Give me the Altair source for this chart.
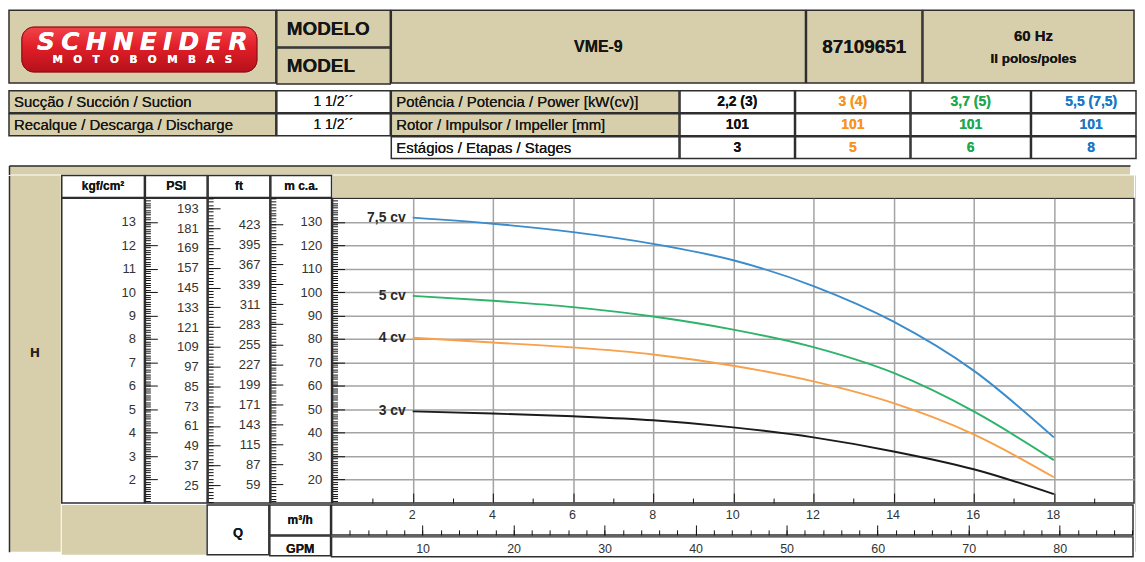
import altair as alt
import numpy as np
import pandas as pd

FONT = "Liberation Sans"
TAN = "#D7CFAC"
LINE = "#2e2e2e"
TXT = "#151515"
E = 1.5            # stroke width of every view (Vega pads each view's bounds by it)
SP = -2 * E        # spacing that makes neighbouring views share their border

# ---------------- header / table texts ----------------
brand = "SCHNEIDER"
brand_sub = "MOTOBOMBAS"
model_titles = ["MODELO", "MODEL"]
model_name = "VME-9"
model_code = "87109651"
freq_text = ["60 Hz", "II polos/poles"]

pipe_labels = ["Sucção / Succión / Suction", "Recalque / Descarga / Discharge"]
pipe_sizes = ["1 1/2´´", "1 1/2´´"]

spec_labels = ["Potência / Potencia / Power [kW(cv)]",
               "Rotor / Impulsor / Impeller [mm]",
               "Estágios / Etapas / Stages"]
power_kw_cv = ["2,2 (3)", "3 (4)", "3,7 (5)", "5,5 (7,5)"]
impeller_mm = ["101", "101", "101", "101"]
stage_count = ["3", "5", "6", "8"]
value_colors = ["#111111", "#F7941D", "#1FA84F", "#1C78C4"]

unit_headers = ["kgf/cm²", "PSI", "ft", "m c.a."]
axis_name_h = "H"
axis_name_q = "Q"
q_units = ["m³/h", "GPM"]

# ---------------- pump curves (Q m3/h -> H m c.a.) ----------------
curve_names = ["3 cv", "4 cv", "5 cv", "7,5 cv"]
curve_colors = ["#1b1b1b", "#F8A04A", "#2DB36A", "#3A8CCD"]
flow_m3h = [2, 4, 6, 8, 10, 12, 14, 16, 18]
head_3cv = [49.1, 48.2, 47.0, 45.3, 42.3, 38.0, 32.0, 24.4, 13.8]
head_4cv = [80.5, 78.5, 76.4, 73.4, 68.6, 61.9, 52.6, 39.3, 21.0]
head_5cv = [98.4, 96.3, 93.6, 89.6, 84.0, 76.5, 65.5, 49.1, 28.3]
head_75cv = [131.8, 129.2, 125.6, 120.6, 113.6, 102.6, 87.4, 66.5, 38.0]

# ---------------- scales / ruler labels ----------------
head_domain = [10, 140]
flow_domain = [0, 20]
KGF_PER_M = 0.1
PSI_PER_M = 1.422
FT_PER_M = 1 / 0.3048
GPM_PER_M3H = 4.403

kgf_labels = [2, 3, 4, 5, 6, 7, 8, 9, 10, 11, 12, 13]
psi_labels = [25, 37, 49, 61, 73, 85, 97, 109, 121, 133, 145, 157, 169, 181, 193]
ft_labels = [59, 87, 115, 143, 171, 199, 227, 255, 283, 311, 339, 367, 395, 423]
mca_labels = [20, 30, 40, 50, 60, 70, 80, 90, 100, 110, 120, 130]
m3h_labels = [2, 4, 6, 8, 10, 12, 14, 16, 18]
gpm_labels = [10, 20, 30, 40, 50, 60, 70, 80]

kgf_minor = np.round(np.arange(11, 140) / 10, 1).tolist()
psi_minor = list(range(15, 200, 2))
ft_minor = list(range(35, 460, 4))
mca_minor = list(range(11, 140))
m3h_minor = list(range(1, 20, 2))
gpm_minor = list(range(2, 89, 2))

kgf_dom = [head_domain[0] * KGF_PER_M, head_domain[1] * KGF_PER_M]
psi_dom = [head_domain[0] * PSI_PER_M, head_domain[1] * PSI_PER_M]
ft_dom = [head_domain[0] * FT_PER_M, head_domain[1] * FT_PER_M]
gpm_dom = [flow_domain[0] * GPM_PER_M3H, flow_domain[1] * GPM_PER_M3H]

# ---------------- layout sizes ----------------
W_KGF, W_PSI, W_FT, W_MCA, W_PLOT = 83, 62, 62, 61, 805
H_HDR, H_PLOT, H_QROW, H_GPM = 22, 306, 30, 20
H_SIDE = H_HDR + H_PLOT + H_QROW + H_GPM
W_RIGHT = 1
W_PANEL = 52 + W_KGF + W_PSI + W_FT + W_MCA + W_PLOT + W_RIGHT

ONE = alt.Data(values=[{"v": 0, "u": 0}, {"v": 1, "u": 1}])
INVISIBLE = dict(opacity=0, size=0, strokeWidth=0)


def box(fill=TAN, border=True):
    return alt.ViewBackground(fill=fill, stroke=LINE if border else "transparent", strokeWidth=E)


def txt(text, size=14, weight="normal", color=TXT, align="center", x=None, y=None, dy=0, font=FONT, style="normal"):
    enc = {"text": alt.value(text)}
    if x is not None:
        enc["x"] = alt.value(x)
    if y is not None:
        enc["y"] = alt.value(y)
    return alt.Chart(ONE).mark_text(font=font, fontSize=size, fontWeight=weight, color=color,
                                    align=align, baseline="middle", dy=dy,
                                    fontStyle=style).encode(**enc)


def cell(w, h, layers=None, fill=TAN, border=True):
    if not layers:
        layers = [txt("")]
    return alt.layer(*layers).properties(width=w, height=h, view=box(fill, border))


def hc(*charts, gap=0):
    return alt.hconcat(*charts, spacing=gap + SP)


def vc(*charts, gap=0):
    return alt.vconcat(*charts, spacing=gap + SP)


def guide(channel, dom, values, orient, tick=0, label=False, pad=0, size=13):
    """An invisible point whose axis draws one ruler (ticks or labels)."""
    sc = alt.Scale(domain=dom, nice=False, zero=False)
    ax = dict(orient=orient, values=values, domain=False, grid=False, title=None, minExtent=0,
              labels=label, ticks=tick > 0, labelFlush=False, labelOverlap=False)
    if tick > 0:
        ax.update(tickSize=tick, offset=-tick, tickColor="#111", tickWidth=1)
    if label:
        ax.update(labelPadding=pad, labelFont=FONT, labelFontSize=size, labelColor="#333")
        if channel == "y":
            ax.update(labelAlign="right", labelBaseline="middle")
        else:
            ax.update(labelAlign="center", labelBaseline="top")
    main = alt.Y if channel == "y" else alt.X
    other = alt.X if channel == "y" else alt.Y
    other_ch = "x" if channel == "y" else "y"
    mid = (dom[0] + dom[1]) / 2
    return alt.Chart(alt.Data(values=[{"v": mid, "u": 0.5}])).mark_point(**INVISIBLE).encode(
        **{channel: main("v:Q", scale=sc, axis=alt.Axis(**ax)),
           other_ch: other("u:Q", scale=alt.Scale(domain=[0, 1]), axis=None)})


# ---------------- header row ----------------
red_grad = alt.LinearGradient(
    gradient="linear", x1=0, x2=0, y1=0, y2=1,
    stops=[alt.GradientStop(color="#F2444A", offset=0),
           alt.GradientStop(color="#E01E28", offset=0.45),
           alt.GradientStop(color="#B5111B", offset=1)])
logo_rect = alt.Chart(ONE).mark_rect(cornerRadius=12, color=red_grad, stroke="#8f0d15", strokeWidth=1).encode(
    x=alt.value(13), x2=alt.value(249), y=alt.value(17), y2=alt.value(62))
logo = cell(268, 73, [
    logo_rect,
    txt("\u2005".join(brand), size=25, weight="bold", color="white", dy=-5, font="DejaVu Sans", style="italic"),
    txt("\u2003".join(brand_sub), size=10.5, weight="bold", color="white", dy=14, font="DejaVu Sans"),
])
model_cell = vc(
    cell(114, 37, [txt(model_titles[0], size=19, weight="bold", align="left", x=10)]),
    cell(114, 36, [txt(model_titles[1], size=19, weight="bold", align="left", x=10)]),
)
name_cell = cell(416, 73, [txt(model_name, size=16, weight="bold")])
code_cell = cell(116, 73, [txt(model_code, size=19, weight="bold")])
freq_cell = cell(212, 73, [txt(freq_text[0], size=15, weight="bold", dy=-11, x=111),
                           txt(freq_text[1], size=13.5, weight="bold", dy=13, x=111)])
header = hc(logo, model_cell, name_cell, code_cell, freq_cell)

# ---------------- second block ----------------
left_table = vc(*[
    hc(cell(268, 22, [txt(lab, size=15, align="left", x=5)]),
       cell(114, 22, [txt(val, size=14)], fill="transparent"))
    for lab, val in zip(pipe_labels, pipe_sizes)
])
col_w = [115, 115, 120, 105]
col_text_x = [57.5, 57.5, 60, 60]
right_rows = []
for i, (lab, vals) in enumerate(zip(spec_labels, [power_kw_cv, impeller_mm, stage_count])):
    row = [cell(289, 22, [txt(lab, size=15, align="left", x=5)], fill=TAN if i < 2 else "transparent")]
    for w, tx, v, c in zip(col_w, col_text_x, vals, value_colors):
        row.append(cell(w, 22, [txt(v, size=14, weight="bold", color=c, x=tx)], fill="transparent"))
    right_rows.append(hc(*row))
right_table = vc(*right_rows)
block2 = hc(left_table, right_table)


# ---------------- ruler columns ----------------
def column(width, layers):
    return alt.layer(*layers).resolve_scale(y="independent").properties(
        width=width, height=H_PLOT, view=box("transparent"))


kgf_col = column(W_KGF, [guide("y", kgf_dom, kgf_labels, "right", label=True, pad=-9)])
psi_col = column(W_PSI, [guide("y", kgf_dom, kgf_labels, "left", tick=12),
                         guide("y", kgf_dom, kgf_minor, "left", tick=5),
                         guide("y", psi_dom, psi_labels, "right", label=True, pad=-9)])
ft_col = column(W_FT, [guide("y", psi_dom, psi_labels, "left", tick=12),
                       guide("y", psi_dom, psi_minor, "left", tick=5),
                       guide("y", ft_dom, ft_labels, "right", label=True, pad=-10)])
mca_col = column(W_MCA, [guide("y", ft_dom, ft_labels, "left", tick=12),
                         guide("y", ft_dom, ft_minor, "left", tick=5),
                         guide("y", head_domain, mca_labels, "right", label=True, pad=-10)])

# ---------------- plot ----------------
curves = pd.DataFrame({
    "q": flow_m3h * 4,
    "h": head_3cv + head_4cv + head_5cv + head_75cv,
    "series": [n for n in curve_names for _ in flow_m3h],
})
curve_starts = pd.DataFrame({
    "q": [flow_m3h[0]] * 4,
    "h": [head_3cv[0], head_4cv[0], head_5cv[0], head_75cv[0]],
    "series": curve_names,
})
xs = alt.Scale(domain=flow_domain, nice=False, zero=False)
ys = alt.Scale(domain=head_domain, nice=False, zero=False)
grid_ax = dict(grid=True, gridColor="#a3a3a3", gridWidth=1.5, ticks=False, labels=False,
               domain=False, title=None, minExtent=0)
lines = alt.Chart(curves).mark_line(strokeWidth=1.9, interpolate="monotone").encode(
    x=alt.X("q:Q", scale=xs, axis=alt.Axis(values=m3h_labels, **grid_ax)),
    y=alt.Y("h:Q", scale=ys, axis=alt.Axis(values=mca_labels, **grid_ax)),
    color=alt.Color("series:N", scale=alt.Scale(domain=curve_names, range=curve_colors), legend=None),
)
curve_text = alt.Chart(curve_starts).mark_text(
    align="right", baseline="middle", dx=-7, font=FONT, fontSize=14, fontWeight="bold", color="#2a2a2a"
).encode(x=alt.X("q:Q", scale=xs, axis=None), y=alt.Y("h:Q", scale=ys, axis=None), text="series:N")
plot = alt.layer(
    lines, curve_text,
    guide("y", head_domain, mca_labels, "left", tick=12),
    guide("y", head_domain, mca_minor, "left", tick=5),
    guide("x", flow_domain, m3h_labels, "bottom", tick=10),
    guide("x", flow_domain, m3h_minor, "bottom", tick=5),
).resolve_scale(x="independent", y="independent").properties(
    width=W_PLOT, height=H_PLOT, view=box("transparent"))

m3h_row = alt.layer(
    guide("x", flow_domain, m3h_labels, "top", label=True, pad=-4, size=12.5),
    guide("x", gpm_dom, gpm_labels, "bottom", tick=10),
    guide("x", gpm_dom, gpm_minor, "bottom", tick=5),
).resolve_scale(x="independent").properties(width=W_PLOT, height=H_QROW, view=box("transparent"))
gpm_row = alt.layer(
    guide("x", gpm_dom, gpm_labels, "top", label=True, pad=-6, size=12.5),
).properties(width=W_PLOT, height=H_GPM, view=box("transparent"))

# ---------------- chart panel ----------------
edge_ax = dict(domainColor=LINE, domainWidth=1.5, ticks=False, labels=False, grid=False, title=None,
               minExtent=0)
top_strip = alt.Chart(ONE).mark_point(**INVISIBLE).encode(
    x=alt.X("v:Q", axis=alt.Axis(orient="top", **edge_ax)),
    y=alt.Y("u:Q", axis=alt.Axis(orient="left", **edge_ax)),
).properties(width=W_PANEL, height=9, view=box(TAN, False))
left_strip = alt.layer(
    alt.Chart(ONE).mark_point(**INVISIBLE).encode(
        x=alt.X("u:Q", axis=None),
        y=alt.Y("v:Q", axis=alt.Axis(orient="left", **edge_ax))),
    txt(axis_name_h, size=13, weight="bold", color="#222", y=178),
).properties(width=52, height=H_SIDE, view=box(TAN, False))
right_strip = cell(W_RIGHT, H_SIDE, fill=TAN, border=False)

hdr_row = hc(
    cell(W_KGF, H_HDR, [txt(unit_headers[0], size=12, weight="bold")], fill="transparent"),
    cell(W_PSI, H_HDR, [txt(unit_headers[1], size=12.5, weight="bold")], fill="transparent"),
    cell(W_FT, H_HDR, [txt(unit_headers[2], size=12, weight="bold")], fill="transparent"),
    cell(W_MCA, H_HDR, [txt(unit_headers[3], size=12, weight="bold")], fill="transparent"),
    cell(W_PLOT, H_HDR, fill=TAN, border=False),
)
body_row = hc(kgf_col, psi_col, ft_col, mca_col, plot)
bottom_row = hc(
    cell(W_KGF + W_PSI, H_QROW + H_GPM, fill=TAN, border=False),
    cell(W_FT, H_QROW + H_GPM, [txt(axis_name_q, size=13, weight="bold", dy=3)], fill="transparent"),
    vc(cell(W_MCA, H_QROW, [txt(q_units[0], size=12, weight="bold")], fill="transparent"),
       cell(W_MCA, H_GPM, [txt(q_units[1], size=12.5, weight="bold", dy=3)], fill="transparent")),
    vc(m3h_row, gpm_row),
)
middle = vc(hdr_row, body_row, bottom_row)
panel = vc(top_strip, hc(left_strip, middle, right_strip))

chart = vc(header, block2, panel, gap=8).properties(
    padding=0,
    background="white",
).configure(font=FONT)

chart.save("out.html", embed_options={"renderer": "svg", "actions": False})
